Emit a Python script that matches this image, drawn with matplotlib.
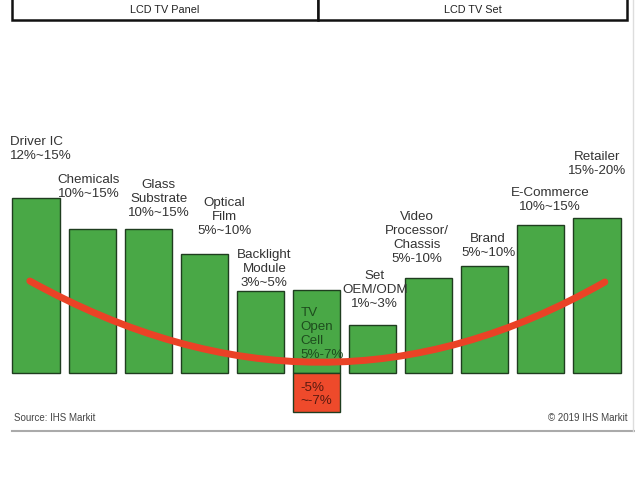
import matplotlib
matplotlib.use("Agg")
import matplotlib.pyplot as plt
from matplotlib.patches import Rectangle, PathPatch
from matplotlib.path import Path

plt.rcParams['font.family'] = ['Liberation Sans', 'DejaVu Sans']

# ---- data (relative margin bar heights, arbitrary units) ----
categories = ["Driver IC", "Chemicals", "Glass Substrate", "Optical Film",
              "Backlight Module", "TV Open Cell", "Set OEM/ODM",
              "Video Processor/Chassis", "Brand", "E-Commerce", "Retailer"]
heights = [175, 144, 144, 119, 82, 83, 48, 95, 107, 148, 155]
negative_idx = 5
negative_value = -39
labels = ["Driver IC\n12%~15%", "Chemicals\n10%~15%", "Glass\nSubstrate\n10%~15%",
          "Optical\nFilm\n5%~10%", "Backlight\nModule\n3%~5%", "TV\nOpen\nCell\n5%-7%",
          "Set\nOEM/ODM\n1%~3%", "Video\nProcessor/\nChassis\n5%-10%",
          "Brand\n5%~10%", "E-Commerce\n10%~15%", "Retailer\n15%-20%"]
negative_label = "-5%\n~-7%"
header_labels = ["LCD TV Panel", "LCD TV Set"]
source_text = "Source: IHS Markit"
copyright_text = "\u00a9 2019 IHS Markit"
# smile curve (quadratic Bezier: start, control, end) in (bar index, value)
curve_pts = [(-0.11, 92), (5.11, -70), (10.14, 91)]

# ---- styling / layout ----
W, H = 635, 481
fig = plt.figure(figsize=(W / 100, H / 100), dpi=100)
ax = fig.add_axes([0, 0, 1, 1])
spacing = 56.1
x0 = 36.0
base_px = 374.0
ax.set_xlim(-x0 / spacing, (W - x0) / spacing)
ax.set_ylim(-(H - base_px), base_px)
ax.axis("off")

green = "#49a846"
edge = "#1f3d1f"
red = "#ee4a2b"
txt = "#333333"

xs = list(range(len(heights)))
ax.bar(xs, heights, width=0.84, color=green, edgecolor=edge, linewidth=1.0, zorder=2)
ax.bar([negative_idx], [negative_value], width=0.84, color=red, edgecolor=edge,
       linewidth=1.0, zorder=2)

# smile curve
path = Path(curve_pts, [Path.MOVETO, Path.CURVE3, Path.CURVE3])
ax.add_patch(PathPatch(path, facecolor="none", edgecolor="#ea4226", lw=5.0,
                       capstyle="round", zorder=3))

fs = 9.6
ls = 1.2
# label positions (x offset from bar center in bar units, y top of text in px-units, alignment)
label_pos = [(-0.46, 237.5, "left"), (-0.06, 199.5, "center"), (0.19, 194.5, "center"),
             (0.36, 176.5, "center"), (0.07, 124.5, "center"), (-0.28, 66.5, "left"),
             (0.04, 103.5, "center"), (-0.21, 162.5, "center"), (0.06, 140.5, "center"),
             (0.16, 186.5, "center"), (0.0, 222.5, "center")]
for i, (lab, (dx, ytop, ha)) in enumerate(zip(labels, label_pos)):
    color = "#1e4d1e" if i == negative_idx else txt
    ax.text(i + dx, ytop, lab, ha=ha, va="top", fontsize=fs, color=color,
            linespacing=ls, zorder=4)
ax.text(negative_idx - 0.28, -8.5, negative_label, ha="left", va="top", fontsize=fs,
        color="#5a1a10", linespacing=1.05, zorder=4)

# header boxes (figure pixel coords)
def fx(px):
    return px / W

def fy(py):
    return 1 - py / H

for (l, r), lab in zip([(12, 318), (318, 627)], header_labels):
    fig.patches.append(Rectangle((fx(l), fy(21)), fx(r) - fx(l), fy(-3) - fy(21),
                                 transform=fig.transFigure, facecolor="white",
                                 edgecolor="#111111", lw=1.8))
    fig.text(fx((l + r) / 2), fy(10), lab, ha="center", va="center", fontsize=7.8,
             color="#222222")

fig.text(fx(14), fy(418), source_text, ha="left", va="center", fontsize=7.0, color="#444444")
fig.text(fx(628), fy(418), copyright_text, ha="right", va="center", fontsize=7.0, color="#444444")
fig.lines.append(plt.Line2D([fx(12), fx(634)], [fy(432), fy(432)], transform=fig.transFigure,
                            color="#aaaaaa", lw=1.5))
fig.lines.append(plt.Line2D([fx(633), fx(633)], [fy(432), fy(0)], transform=fig.transFigure,
                            color="#dddddd", lw=1.0))

fig.savefig("out.png", dpi=100)
